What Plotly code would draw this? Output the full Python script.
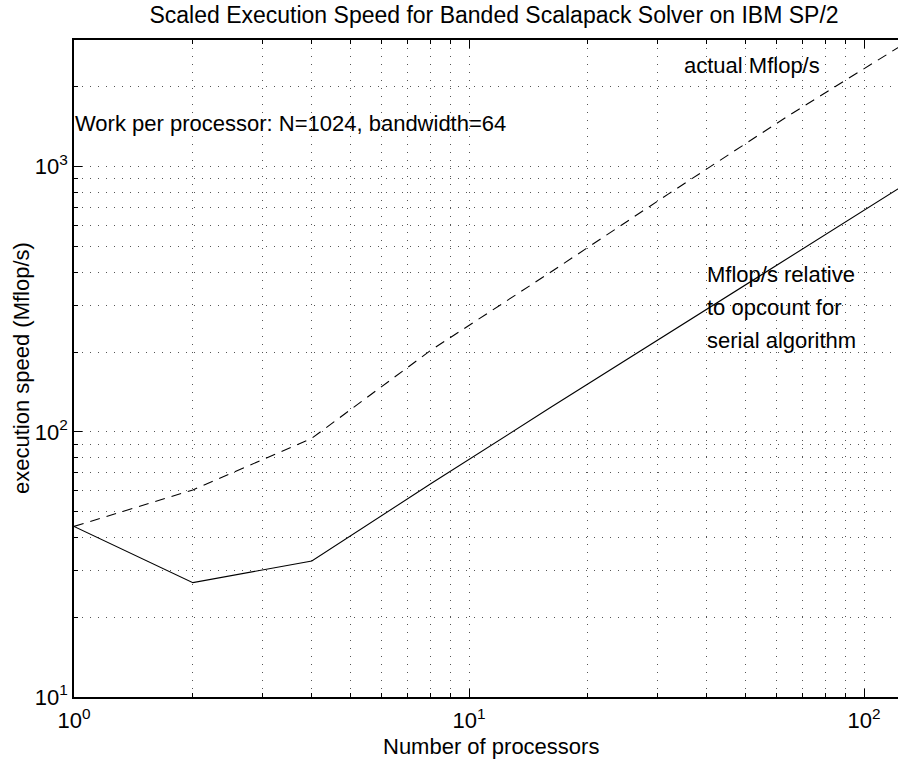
import plotly.graph_objects as go

# ---- data ----
processors = [1, 2, 4, 8, 16, 32, 64, 128]
actual_mflops = [44, 60.4, 94.6, 203, 398, 790, 1549, 2944]
relative_mflops = [44, 27.0, 32.6, 63.7, 123, 236, 450, 863]

x_major = [1, 10, 100]
x_major_text = ["10<sup>0</sup>", "10<sup>1</sup>", "10<sup>2</sup>"]
y_major = [10, 100, 1000]
y_major_text = ["10<sup>1</sup>", "10<sup>2</sup>", "10<sup>3</sup>"]
x_minor = [m * 10 ** e for e in range(0, 3) for m in range(2, 10)]
y_minor = [m * 10 ** e for e in range(1, 4) for m in range(2, 10)]

title_text = "Scaled Execution Speed for Banded Scalapack Solver on IBM SP/2"
x_label = "Number of processors"
y_label = "execution speed (Mflop/s)"
note_work = "Work per processor: N=1024, bandwidth=64"
note_actual = "actual Mflop/s"
note_relative = ["Mflop/s relative", "to opcount for", "serial algorithm"]

FONT = "Liberation Sans, Arial, Helvetica, sans-serif"
GRID = "#555555"
GRIDDASH = "1px,7px"

fig = go.Figure()
fig.add_trace(go.Scatter(x=processors, y=actual_mflops, mode="lines",
                         line=dict(color="black", width=1.1, dash="10px,7px"),
                         showlegend=False, hoverinfo="skip"))
fig.add_trace(go.Scatter(x=processors, y=relative_mflops, mode="lines",
                         line=dict(color="black", width=1.1),
                         showlegend=False, hoverinfo="skip"))

axis_common = dict(
    type="log", showline=True, linecolor="black", linewidth=1.8,
    ticks="inside", ticklen=8, tickwidth=1, tickcolor="black",
    showgrid=True, gridcolor=GRID, gridwidth=1, griddash=GRIDDASH,
    zeroline=False, tickmode="array",
    tickfont=dict(family=FONT, size=22, color="black"),
)

fig.update_xaxes(
    **axis_common, range=[0, 2.086], mirror="ticks",
    tickvals=x_major, ticktext=x_major_text, ticklabelstandoff=3,
    minor=dict(tickmode="array", tickvals=x_minor, ticks="inside", ticklen=4,
               tickcolor="black", showgrid=True, gridcolor=GRID,
               griddash=GRIDDASH, gridwidth=1),
)
fig.update_yaxes(
    **axis_common, range=[1, 3.478], mirror=False,
    tickvals=y_major, ticktext=y_major_text, ticklabelstandoff=0,
    minor=dict(tickmode="array", tickvals=y_minor, ticks="inside", ticklen=4,
               tickcolor="black", showgrid=True, gridcolor=GRID,
               griddash=GRIDDASH, gridwidth=1),
)

def px(xpix):
    return (xpix - 74) / 824.0

def py(ypix):
    return (697 - ypix) / 657.0

ann_font = dict(family=FONT, size=22, color="black")
annotations = [
    dict(text=note_work, x=px(73), y=py(123.4), xanchor="left", yanchor="middle"),
    dict(text=note_actual, x=px(682), y=py(65.5), xanchor="left", yanchor="middle"),
    dict(text=note_relative[0], x=px(705), y=py(274), xanchor="left", yanchor="middle"),
    dict(text=note_relative[1], x=px(705), y=py(307.4), xanchor="left", yanchor="middle"),
    dict(text=note_relative[2], x=px(705), y=py(340), xanchor="left", yanchor="middle"),
    dict(text=x_label, x=px(491), y=py(746), xanchor="center", yanchor="middle"),
    dict(text=y_label, x=px(21), y=py(368), xanchor="center", yanchor="middle",
         textangle=-90),
]
for a in annotations:
    a.update(xref="paper", yref="paper", showarrow=False, font=ann_font)

fig.update_layout(
    width=898, height=759,
    margin=dict(l=74, r=0, t=40, b=62, pad=0),
    paper_bgcolor="white", plot_bgcolor="white",
    title=dict(text=title_text, x=494 / 898, xref="container", xanchor="center",
               y=1 - 15 / 759, yref="container", yanchor="middle",
               font=dict(family=FONT, size=23, color="black")),
    annotations=annotations,
    showlegend=False,
    hovermode=False,
)

fig.write_html("out.html",
               config={"displayModeBar": False, "staticPlot": True},
               post_script="document.body.style.margin='0px';"
                           "document.body.style.overflow='hidden';")
